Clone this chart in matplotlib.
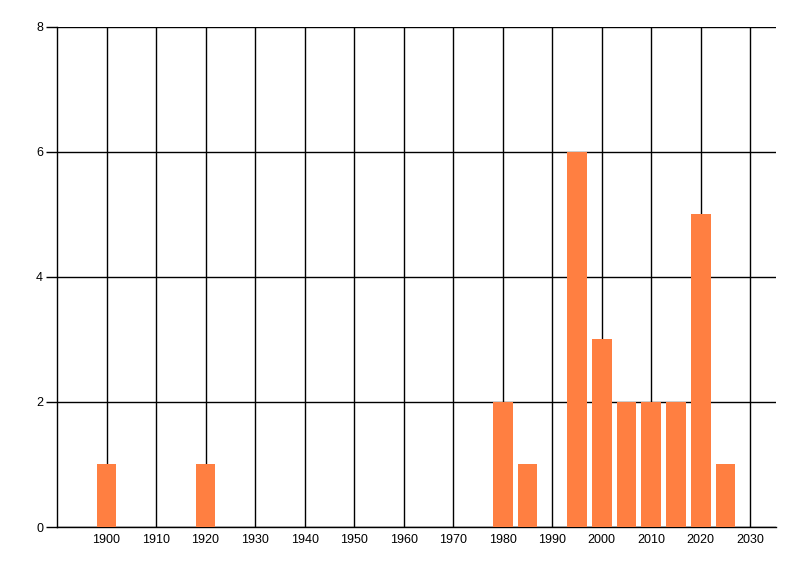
import matplotlib

matplotlib.use("Agg")

import matplotlib.pyplot as plt

plt.rcParams["font.family"] = ["Liberation Sans", "DejaVu Sans"]

years = [1900, 1920, 1980, 1985, 1995, 2000, 2005, 2010, 2015, 2020, 2025]
counts = [1, 1, 2, 1, 6, 3, 2, 2, 2, 5, 1]
x_ticks = list(range(1900, 2031, 10))
y_ticks = [0, 2, 4, 6, 8]

BAR_COLOR = "#FF7F41"

fig = plt.figure(figsize=(8, 5.76), dpi=100)
ax = fig.add_axes([57 / 800, 49 / 576, 719 / 800, 500.5 / 576])

ax.bar(years, counts, width=4, color=BAR_COLOR, zorder=3)

ax.set_xlim(1890, 2035.2)
ax.set_ylim(0, 8)
ax.set_xticks(x_ticks)
ax.set_yticks(y_ticks)
ax.set_xticklabels([str(y) for y in x_ticks])

ax.grid(True, color="black", linewidth=1, zorder=0)
ax.set_axisbelow(True)

for side in ["top", "right"]:
    ax.spines[side].set_visible(False)
for side in ["left", "bottom"]:
    ax.spines[side].set_linewidth(1)
    ax.spines[side].set_color("black")

ax.tick_params(axis="y", length=8, width=1, pad=2, labelsize=9)
ax.tick_params(axis="x", length=0, pad=5, labelsize=9)

fig.savefig("out.png", dpi=100)
